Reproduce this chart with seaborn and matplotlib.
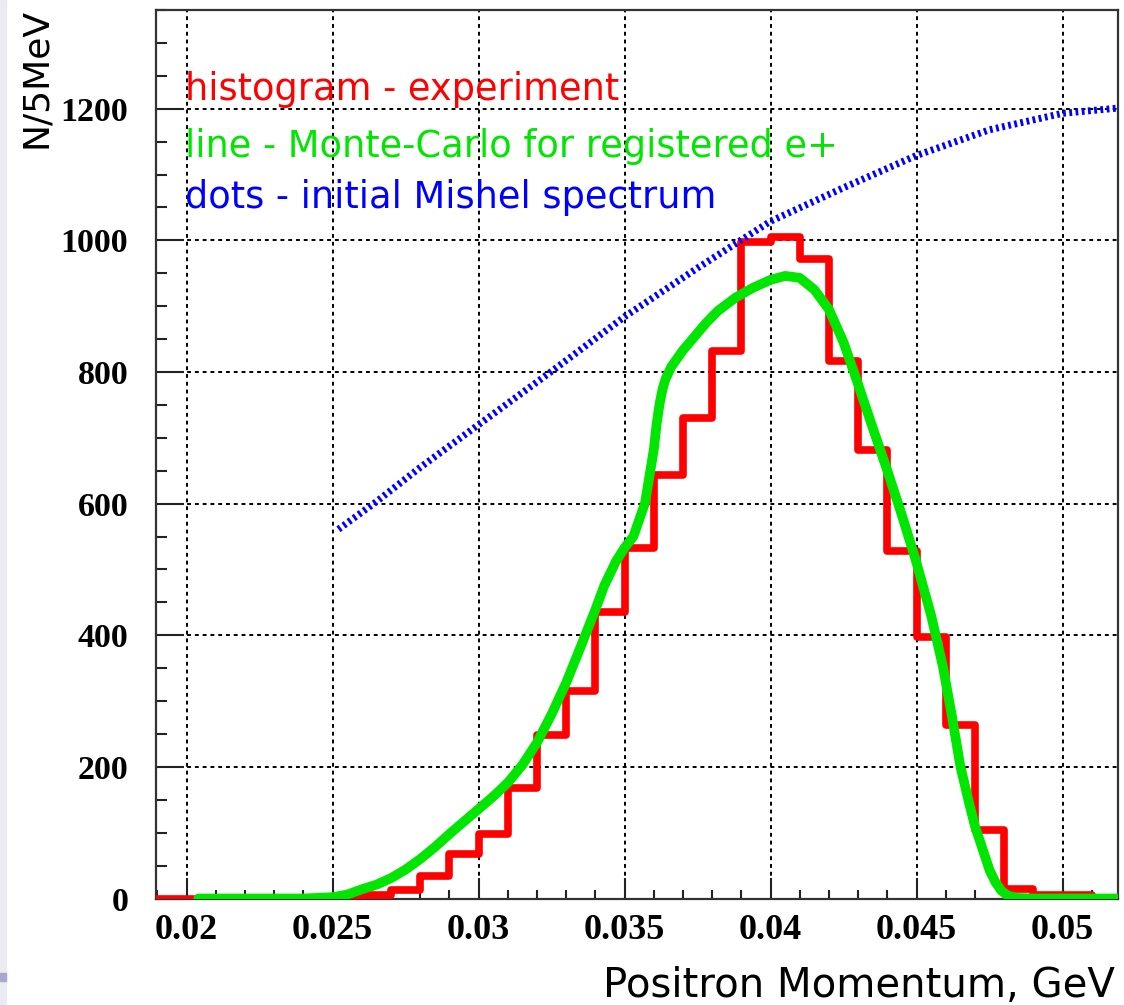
import numpy as np
import pandas as pd
import matplotlib
matplotlib.use("Agg")
import matplotlib.pyplot as plt
from matplotlib.ticker import MultipleLocator, FuncFormatter
from matplotlib.patches import Rectangle
import seaborn as sns

# ---------------- data ----------------
# experimental histogram: left bin edges (GeV) and counts per bin
hist_left = [0.019, 0.020, 0.021, 0.022, 0.023, 0.024, 0.025, 0.026, 0.027, 0.028,
             0.029, 0.030, 0.031, 0.032, 0.033, 0.034, 0.035, 0.036, 0.037, 0.038,
             0.039, 0.040, 0.041, 0.042, 0.043, 0.044, 0.045, 0.046, 0.047, 0.048,
             0.049, 0.050, 0.051]
hist_counts = [0, 0, 0, 0, 0, 0, 2, 5, 13, 34,
               67, 98, 168, 248, 315, 436, 532, 643, 730, 832,
               998, 1005, 972, 816, 681, 528, 398, 264, 104, 15,
               6, 6, 0]
bin_width = 0.001

# Monte-Carlo curve for registered e+
mc_x = [0.0204, 0.022, 0.024, 0.025, 0.0255, 0.026, 0.0265, 0.027, 0.0275, 0.028,
        0.0285, 0.029, 0.0295, 0.030, 0.0305, 0.031, 0.0315, 0.032, 0.0325, 0.033,
        0.0335, 0.034, 0.0343, 0.0347, 0.035, 0.0353, 0.0357, 0.0360, 0.0361,
        0.0362, 0.0363, 0.0364, 0.0366, 0.0370, 0.0374, 0.0378, 0.0382, 0.0388,
        0.0394, 0.0400, 0.0405, 0.0410, 0.0415, 0.0420, 0.0425, 0.0430, 0.0435,
        0.0440, 0.0445, 0.0450, 0.0455, 0.0459, 0.0462, 0.0465, 0.0468, 0.0470,
        0.0473, 0.0475, 0.0477, 0.0479, 0.0481, 0.0484, 0.0490, 0.0519]
mc_y = [0, 0, 0, 2, 6, 14, 21, 31, 44, 60,
        78, 98, 117, 136, 155, 176, 203, 237, 280, 328,
        383, 439, 475, 512, 533, 550, 601, 682, 722,
        752, 774, 789, 808, 833, 854, 875, 893, 913,
        928, 940, 946, 943, 925, 895, 845, 781, 715,
        650, 582, 510, 430, 353, 280, 201, 145, 110,
        70, 43, 25, 12, 5, 1, 0, 0]

# initial Michel spectrum (dots)
mi_x = [0.0252, 0.0265, 0.028, 0.030, 0.0325, 0.035, 0.0375, 0.040,
        0.0425, 0.045, 0.0475, 0.050, 0.0519]
mi_y = [561, 603, 655, 720, 801, 884, 958, 1029,
        1080, 1129, 1168, 1193, 1201]

legend_lines = ["histogram - experiment",
                "line - Monte-Carlo for registered e+",
                "dots - initial Mishel spectrum"]
legend_colors = ["#ff0000", "#00e600", "#0000ff"]

xlabel = "Positron Momentum, GeV"
ylabel = "N/5MeV"

# ---------------- figure ----------------
sns.set_theme(style="white")
plt.rcParams["font.family"] = ["DejaVu Sans"]

W, H = 1124, 1005
fig = plt.figure(figsize=(W / 100, H / 100), dpi=100)
fig.patch.set_facecolor("white")

ax_l, ax_r, ax_t, ax_b = 156, 1118, 10, 898.5
ax = fig.add_axes([ax_l / W, (H - ax_b) / H, (ax_r - ax_l) / W, (ax_b - ax_t) / H])
ax.set_facecolor("white")

# grid first
ax.grid(True, which="major", color="black", linestyle=(0, (2.0, 2.0)), linewidth=1.4)
ax.set_axisbelow(True)

edges = [float(e) for e in np.append(np.array(hist_left), hist_left[-1] + bin_width)]
hist_df = pd.DataFrame({"p": np.array(hist_left) + bin_width / 2,
                        "n": np.array(hist_counts, dtype=float)})
sns.histplot(data=hist_df, x="p", weights="n", bins=edges, element="step", fill=False,
             color="#ff0000", linewidth=5.5, ax=ax, zorder=3)

mc_df = pd.DataFrame({"p": mc_x, "n": mc_y})
sns.lineplot(data=mc_df, x="p", y="n", sort=False, estimator=None, color="#00e600",
             linewidth=7.0, ax=ax, zorder=4)
for ln in ax.lines:
    ln.set_solid_capstyle("round")
    ln.set_solid_joinstyle("round")

mi_df = pd.DataFrame({"p": mi_x, "n": mi_y})
sns.lineplot(data=mi_df, x="p", y="n", sort=False, estimator=None, color="#0000ff",
             linewidth=5.0, linestyle=(0, (0.4, 0.5)), ax=ax, zorder=5)

ax.set_xlabel("")
ax.set_ylabel("")
ax.set_xlim(0.01895, 0.0519)
ax.set_ylim(0, 1350)

ax.xaxis.set_major_locator(MultipleLocator(0.005))
ax.xaxis.set_minor_locator(MultipleLocator(0.001))
ax.yaxis.set_major_locator(MultipleLocator(200))
ax.yaxis.set_minor_locator(MultipleLocator(50))
ax.xaxis.set_major_formatter(FuncFormatter(lambda v, p: ("%g" % round(v, 4))))
ax.yaxis.set_major_formatter(FuncFormatter(lambda v, p: "%d" % round(v)))

ax.tick_params(axis="x", which="major", direction="in", length=15, width=1.5,
               color="#222222", pad=11, bottom=True, top=False)
ax.tick_params(axis="x", which="minor", direction="in", length=6.5, width=1.5,
               color="#222222", bottom=True, top=False)
ax.tick_params(axis="y", which="major", direction="in", length=20, width=1.5,
               color="#222222", pad=20, left=True, right=False)
ax.tick_params(axis="y", which="minor", direction="in", length=8, width=1.5,
               color="#222222", left=True, right=False)

for lab in ax.get_xticklabels():
    lab.set_fontfamily("Liberation Serif")
    lab.set_fontweight("bold")
    lab.set_fontsize(26)
    lab.set_color("black")
for lab in ax.get_yticklabels():
    lab.set_fontfamily("Liberation Serif")
    lab.set_fontweight("bold")
    lab.set_fontsize(24.5)
    lab.set_color("black")

for s in ax.spines.values():
    s.set_visible(True)
    s.set_color("#333333")
    s.set_linewidth(1.6)

# axis titles
fig.text(1115 / W, 1 - 997 / H, xlabel, fontsize=29, color="black",
         ha="right", va="baseline")
fig.text(36 / W, 1 - 8 / H, ylabel, fontsize=26, color="black", rotation=90,
         ha="center", va="top")

# coloured description lines
baselines = [100, 156.7, 208]
for txt, col, yb in zip(legend_lines, legend_colors, baselines):
    ax.text((185 - ax_l) / (ax_r - ax_l), (ax_b - yb) / (ax_b - ax_t), txt,
            transform=ax.transAxes, color=col, fontsize=26.5, ha="left", va="baseline",
            zorder=6)

# faint slide-background strip on the left edge
fig.patches.append(Rectangle((0, 0), 6 / W, 1, transform=fig.transFigure,
                             color="#eaeaf0", zorder=0))
fig.patches.append(Rectangle((0, (H - 981) / H), 6 / W, 8 / H, transform=fig.transFigure,
                             color="#a8a8cc", zorder=1))

fig.savefig("out.png", dpi=100, facecolor="white")
